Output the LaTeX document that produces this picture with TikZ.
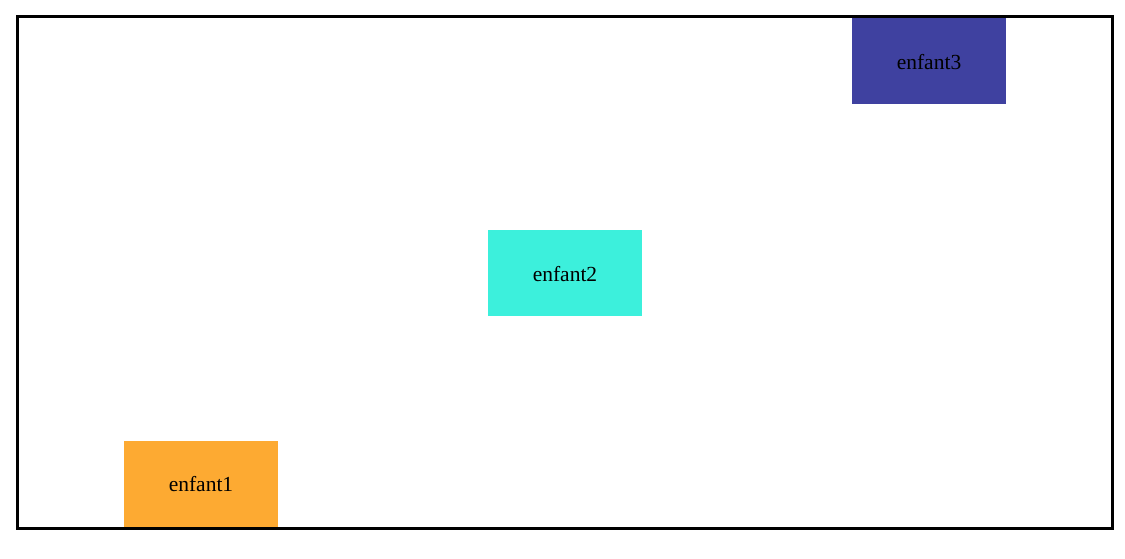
\documentclass[tikz,border=0pt]{standalone}
\usepackage{fontspec}
\setmainfont{Liberation Serif}
\definecolor{c1}{RGB}{253, 170, 50}
\definecolor{c2}{RGB}{60, 240, 220}
\definecolor{c3}{RGB}{63, 65, 160}
\tikzset{
    enfantbox/.style={minimum width=154pt,minimum height=86pt,inner sep=0pt,text height=17pt,font=\fontsize{21.5}{25}\selectfont}
}
\begin{document}
\begin{tikzpicture}[x=1pt,y=-1pt]
			\useasboundingbox (0,0) rectangle (1125,558);
			\node[enfantbox, fill=c1] (enfant1) at (201,483.5) {enfant1};
			\node[enfantbox, fill=c2] (enfant2) at (565,273) {enfant2};
			\node[enfantbox, fill=c3] (enfant3) at (929,61) {enfant3};
			\draw[line width=3pt] (17.5,16.5) rectangle (1112.5,528.5);
		\end{tikzpicture}
\end{document}
